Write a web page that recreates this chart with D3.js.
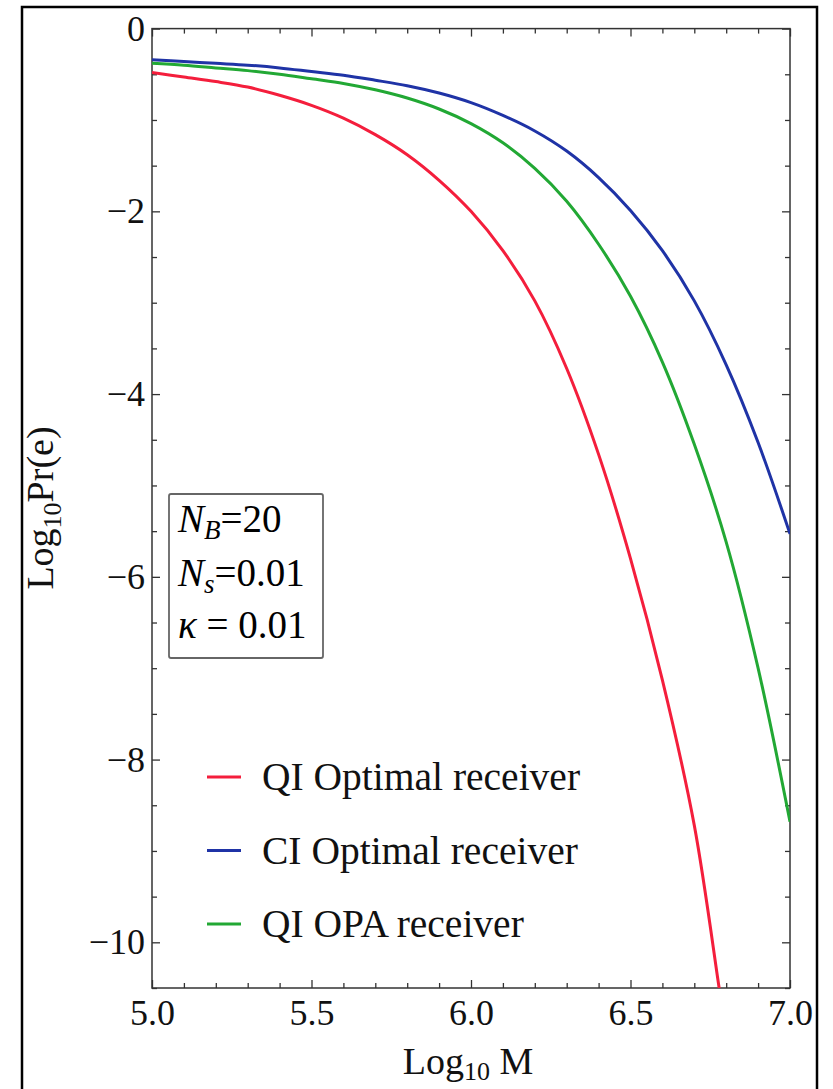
<!DOCTYPE html>
<html lang="en">
<head>
<meta charset="UTF-8">
<title>Log10 Pr(e) vs Log10 M</title>
<script src="https://d3js.org/d3.v7.min.js"></script>
<style>
  html, body { margin: 0; padding: 0; background: #fff; }
  svg { display: block; font-family: "Liberation Serif", "Times New Roman", serif; }
</style>
</head>
<body>
<svg width="833" height="1089"></svg>
<script>
// QI optimal receiver (red)
const qiOptLogM = [5.0, 5.1, 5.2, 5.3, 5.4, 5.5, 5.6, 5.7, 5.8, 5.9, 6.0, 6.1, 6.2, 6.3, 6.4, 6.5, 6.6, 6.7, 6.78, 6.8];
const qiOptLogP = [-0.48, -0.53, -0.58, -0.64, -0.73, -0.84, -0.98, -1.16, -1.38, -1.66, -2.00, -2.43, -2.98, -3.72, -4.66, -5.80, -7.13, -8.72, -10.55, -11.0];
// CI optimal receiver (blue)
const ciOptLogM = [5.0, 5.1, 5.2, 5.3, 5.4, 5.5, 5.6, 5.7, 5.8, 5.9, 6.0, 6.1, 6.2, 6.3, 6.4, 6.5, 6.6, 6.7, 6.8, 6.9, 7.0];
const ciOptLogP = [-0.34, -0.36, -0.38, -0.40, -0.43, -0.47, -0.51, -0.565, -0.625, -0.705, -0.81, -0.95, -1.12, -1.34, -1.63, -1.99, -2.43, -2.98, -3.68, -4.53, -5.53];
// QI OPA receiver (green)
const qiOpaLogM = [5.0, 5.1, 5.2, 5.3, 5.4, 5.5, 5.6, 5.7, 5.8, 5.9, 6.0, 6.1, 6.2, 6.3, 6.4, 6.5, 6.6, 6.7, 6.8, 6.9, 7.0];
const qiOpaLogP = [-0.38, -0.40, -0.43, -0.46, -0.50, -0.55, -0.60, -0.67, -0.76, -0.88, -1.04, -1.25, -1.53, -1.89, -2.36, -2.93, -3.65, -4.55, -5.62, -7.00, -8.68];

const xMajor = [5.0, 5.5, 6.0, 6.5, 7.0];
const yMajor = [0, -2, -4, -6, -8, -10];
const legendNames = ["QI Optimal receiver", "CI Optimal receiver", "QI OPA receiver"];
const legendColors = ["#f41e3c", "#1f33a6", "#22a834"];

const svg = d3.select("svg");
const pLeft = 152, pRight = 790, pTop = 28.6, pBottom = 988;

const x = d3.scaleLinear().domain([5, 7]).range([pLeft, pRight]);
const y = d3.scaleLinear().domain([-10.5, 0]).range([pBottom, pTop]);

// outer border of the figure
svg.append("rect")
   .attr("x", 22).attr("y", 7)
   .attr("width", 795).attr("height", 1100)
   .attr("fill", "none").attr("stroke", "#000").attr("stroke-width", 2.5);

svg.append("clipPath").attr("id", "plotClip")
   .append("rect")
   .attr("x", pLeft).attr("y", pTop)
   .attr("width", pRight - pLeft).attr("height", pBottom - pTop);

const xMinor = d3.range(5, 7.0001, 0.1).filter(v => !xMajor.some(m => Math.abs(m - v) < 1e-6));
const yMinor = d3.range(-10.5, 0.0001, 0.5).filter(v => !yMajor.some(m => Math.abs(m - v) < 1e-6));

const fmtX = d3.format(".1f");
const fmtY = d3.format("d");

function styleAxis(g) {
    g.select(".domain").remove();
    g.selectAll(".tick line").attr("stroke", "#333").attr("stroke-width", 1.3);
    g.selectAll("text").attr("fill", "#111").style("font-size", "36px")
     .style("font-family", "'Liberation Serif', 'Times New Roman', serif");
}

// bottom
svg.append("g").attr("transform", `translate(0,${pBottom})`)
   .call(d3.axisBottom(x).tickValues(xMajor).tickSize(-8).tickPadding(11).tickFormat(fmtX))
   .call(styleAxis);
svg.append("g").attr("transform", `translate(0,${pBottom})`)
   .call(d3.axisBottom(x).tickValues(xMinor).tickSize(-5).tickFormat(""))
   .call(styleAxis);
// top
svg.append("g").attr("transform", `translate(0,${pTop})`)
   .call(d3.axisTop(x).tickValues(xMajor).tickSize(-8).tickFormat(""))
   .call(styleAxis);
svg.append("g").attr("transform", `translate(0,${pTop})`)
   .call(d3.axisTop(x).tickValues(xMinor).tickSize(-5).tickFormat(""))
   .call(styleAxis);
// left
svg.append("g").attr("transform", `translate(${pLeft},0)`)
   .call(d3.axisLeft(y).tickValues(yMajor).tickSize(-8).tickPadding(7).tickFormat(fmtY))
   .call(styleAxis);
svg.append("g").attr("transform", `translate(${pLeft},0)`)
   .call(d3.axisLeft(y).tickValues(yMinor).tickSize(-5).tickFormat(""))
   .call(styleAxis);
// right
svg.append("g").attr("transform", `translate(${pRight},0)`)
   .call(d3.axisRight(y).tickValues(yMajor).tickSize(-8).tickFormat(""))
   .call(styleAxis);
svg.append("g").attr("transform", `translate(${pRight},0)`)
   .call(d3.axisRight(y).tickValues(yMinor).tickSize(-5).tickFormat(""))
   .call(styleAxis);

// plot frame
svg.append("rect")
   .attr("x", pLeft).attr("y", pTop)
   .attr("width", pRight - pLeft).attr("height", pBottom - pTop)
   .attr("fill", "none").attr("stroke", "#333").attr("stroke-width", 1.5);

// curves
const line = d3.line().x(d => x(d[0])).y(d => y(d[1])).curve(d3.curveCatmullRom.alpha(0.5));
const series = [
    d3.zip(qiOptLogM, qiOptLogP),
    d3.zip(ciOptLogM, ciOptLogP),
    d3.zip(qiOpaLogM, qiOpaLogP)
];
svg.append("g").attr("clip-path", "url(#plotClip)")
   .selectAll("path")
   .data(series)
   .enter()
   .append("path")
   .attr("d", line)
   .attr("fill", "none")
   .attr("stroke", (d, i) => legendColors[i])
   .attr("stroke-width", 3);

// parameter box
const box = svg.append("g");
box.append("rect")
   .attr("x", 169).attr("y", 494).attr("width", 154).attr("height", 164)
   .attr("rx", 2)
   .attr("fill", "#fff").attr("stroke", "#666").attr("stroke-width", 1.8);
const t1 = box.append("text").attr("x", 178).attr("y", 532).style("font-size", "39px");
t1.append("tspan").style("font-style", "italic").text("N");
t1.append("tspan").attr("dy", 7).style("font-style", "italic").style("font-size", "27px").text("B");
t1.append("tspan").attr("dy", -7).text("=20");
const t2 = box.append("text").attr("x", 178).attr("y", 586).style("font-size", "39px");
t2.append("tspan").style("font-style", "italic").text("N");
t2.append("tspan").attr("dy", 7).style("font-style", "italic").style("font-size", "27px").text("s");
t2.append("tspan").attr("dy", -7).text("=0.01");
const t3 = box.append("text").attr("x", 178).attr("y", 638).style("font-size", "39px");
t3.append("tspan").style("font-style", "italic").text("κ");
t3.append("tspan").text(" = 0.01");

// legend
const legend = svg.append("g").selectAll("g")
   .data(legendNames)
   .enter()
   .append("g")
   .attr("transform", (d, i) => `translate(207,${777 + i * 73.5})`);
legend.append("line")
   .attr("x1", 0).attr("x2", 34)
   .attr("stroke", (d, i) => legendColors[i])
   .attr("stroke-width", 3);
legend.append("text")
   .attr("x", 55).attr("y", 13)
   .style("font-size", "39.5px")
   .attr("fill", "#111")
   .text(d => d);

// axis titles
const xt = svg.append("text")
   .attr("x", 468).attr("y", 1074)
   .attr("text-anchor", "middle")
   .style("font-size", "38px").attr("fill", "#111");
xt.append("tspan").text("Log");
xt.append("tspan").attr("dy", 6).style("font-size", "26px").text("10");
xt.append("tspan").attr("dy", -6).text(" M");

const yt = svg.append("text")
   .attr("transform", "translate(53,508) rotate(-90)")
   .attr("text-anchor", "middle")
   .style("font-size", "38px").attr("fill", "#111");
yt.append("tspan").text("Log");
yt.append("tspan").attr("dy", 8).style("font-size", "26px").text("10");
yt.append("tspan").attr("dy", -8).text("Pr(e)");
</script>
</body>
</html>
